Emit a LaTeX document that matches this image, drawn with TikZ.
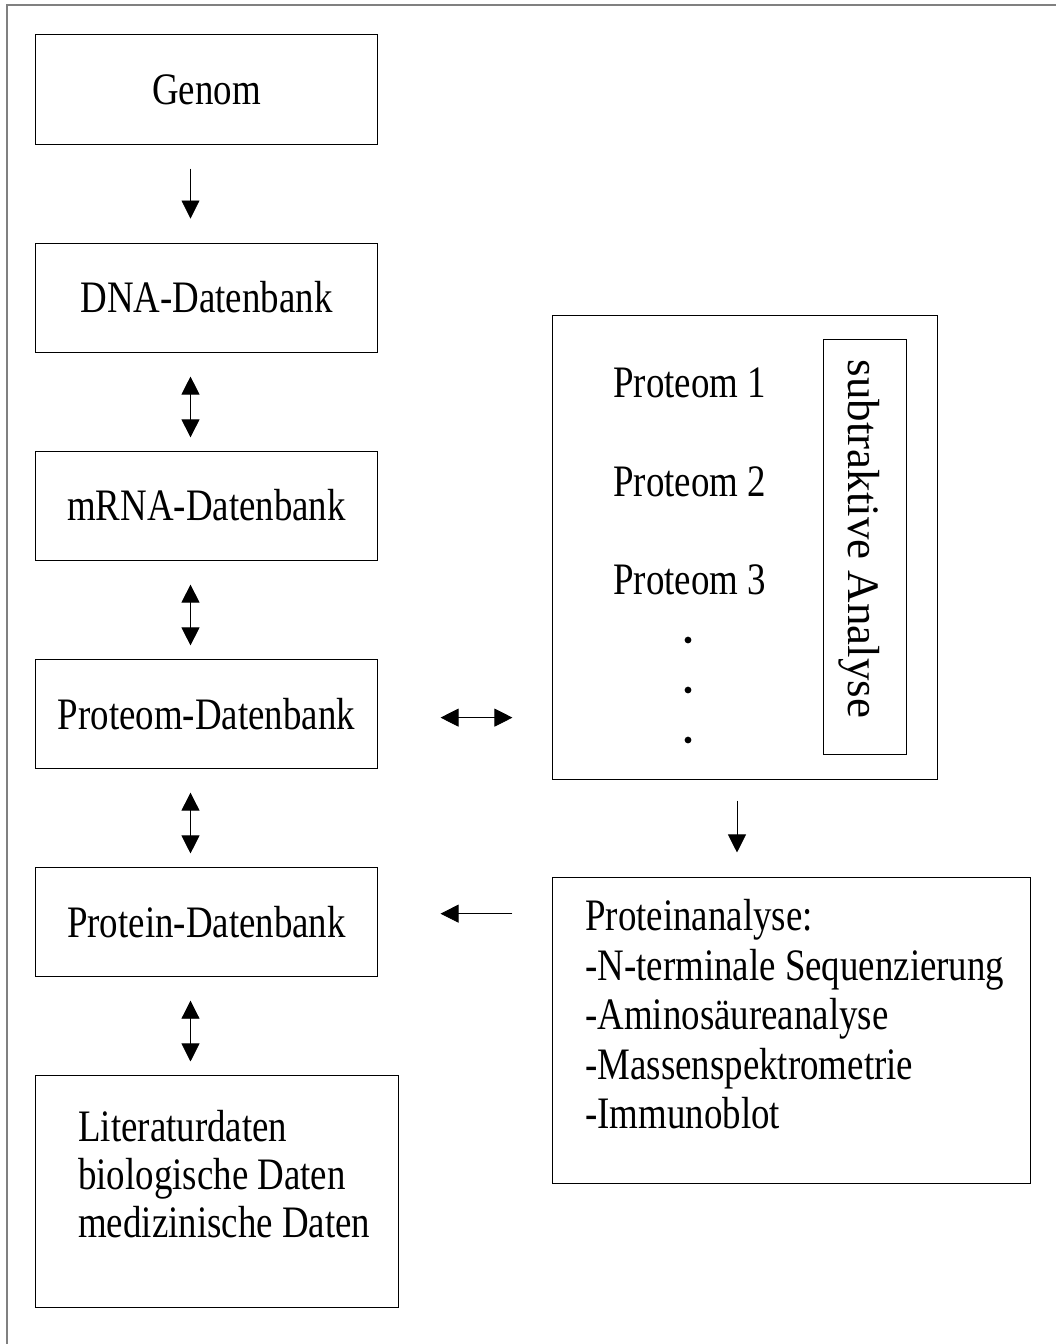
\documentclass[tikz,border=0pt]{standalone}
\usepackage{fontspec}
\setmainfont{Liberation Serif}[FakeStretch=0.82]
\newfontfamily\widefont{Liberation Serif}
\usetikzlibrary{arrows.meta,positioning}
\tikzset{
 dbbox/.style={draw,line width=0.7pt,minimum width=8.525cm,minimum height=2.725cm,
             inner sep=0pt,font=\fontsize{32}{33}\selectfont},
 listtext/.style={align=left,inner sep=0pt,anchor=north west},
 arrow/.style={-{Triangle[length=4.5mm,width=4.5mm]},line width=0.6pt},
 dblarrow/.style={{Triangle[length=4.5mm,width=4.5mm]}-{Triangle[length=4.5mm,width=4.5mm]},
             line width=0.6pt}
}

\begin{document}
\begin{tikzpicture}[x=0.025cm,y=-0.025cm,node distance=2.45cm,
  font=\fontsize{32}{33}\selectfont]
\useasboundingbox (0,0) rectangle (1056,1344);
\draw[gray,line width=0.8pt] (7,1344) |- (1056,5);
% left column
\node[dbbox] (genom) at (206.5,89.5) {Genom};
\node[dbbox,below=of genom] (dna) {DNA-Datenbank};
\node[dbbox,below=of dna] (mrna) {mRNA-Datenbank};
\node[dbbox,below=of mrna] (pdb) {Proteom-Datenbank};
\node[dbbox,below=of pdb] (protdb) {Protein-Datenbank};
\node[dbbox,below=of protdb.south west,anchor=north west,minimum width=9.05cm,
      minimum height=5.8cm] (lit) {};
\node[listtext,font=\fontsize{32}{34}\selectfont] (littext) at (78,1110)
  {Literaturdaten\\biologische Daten\\medizinische Daten};
% right side
\node[draw,line width=0.7pt,minimum width=9.6cm,minimum height=11.575cm] (proteome)
  at (745,547.5) {};
\node[draw,line width=0.7pt,minimum width=2.075cm,minimum height=10.35cm] (subbox)
  at (864.5,547) {};
\node[rotate=-90,inner sep=0pt,font=\widefont\fontsize{32}{33}\selectfont] (subtext)
  at (859,539) {subtraktive Analyse};
\node[inner sep=0pt,anchor=west] (p1) at (613,383) {Proteom 1};
\node[inner sep=0pt,anchor=west] (p2) at (613,482) {Proteom 2};
\node[inner sep=0pt,anchor=west] (p3) at (613,580) {Proteom 3};
\foreach \y in {640,690,740}
  \fill (688,\y) circle[radius=2.4pt];
\node[draw,line width=0.7pt,minimum width=11.925cm,minimum height=7.625cm] (analysis)
  at (791.5,1030.5) {};
\node[listtext,font=\fontsize{32}{35.2}\selectfont] (antext) at (585,899)
  {Proteinanalyse:\\-N-terminale Sequenzierung\\-Aminos\"aureanalyse\\-Massenspektrometrie\\-Immunoblot};
% connectors
\draw[arrow,shorten <=0.6cm,shorten >=0.6cm] ([xshift=-0.4cm]genom.south) -- ([xshift=-0.4cm]dna.north);
\draw[dblarrow,shorten <=0.6cm,shorten >=0.33cm] ([xshift=-0.4cm]dna.south) -- ([xshift=-0.4cm]mrna.north);
\draw[dblarrow,shorten <=0.6cm,shorten >=0.33cm] ([xshift=-0.4cm]mrna.south) -- ([xshift=-0.4cm]pdb.north);
\draw[dblarrow,shorten <=0.6cm,shorten >=0.33cm] ([xshift=-0.4cm]pdb.south) -- ([xshift=-0.4cm]protdb.north);
\draw[dblarrow,shorten <=0.6cm,shorten >=0.33cm] ([xshift=-0.4cm]protdb.south) -- ([xshift=-0.4cm]protdb.south |- lit.north);
\draw[dblarrow,shorten <=1.575cm,shorten >=1cm] ([yshift=-0.1cm]pdb.east) -- ([yshift=-0.1cm]pdb.east -| proteome.west);
\draw[arrow,shorten <=0.525cm,shorten >=0.625cm] ([xshift=-0.2cm]proteome.south) -- ([xshift=-0.2cm]proteome.south |- analysis.north);
\draw[arrow,shorten <=1cm,shorten >=1.575cm] ([yshift=0.2cm]protdb.east -| analysis.west) -- ([yshift=0.2cm]protdb.east);
\end{tikzpicture}
\end{document}
